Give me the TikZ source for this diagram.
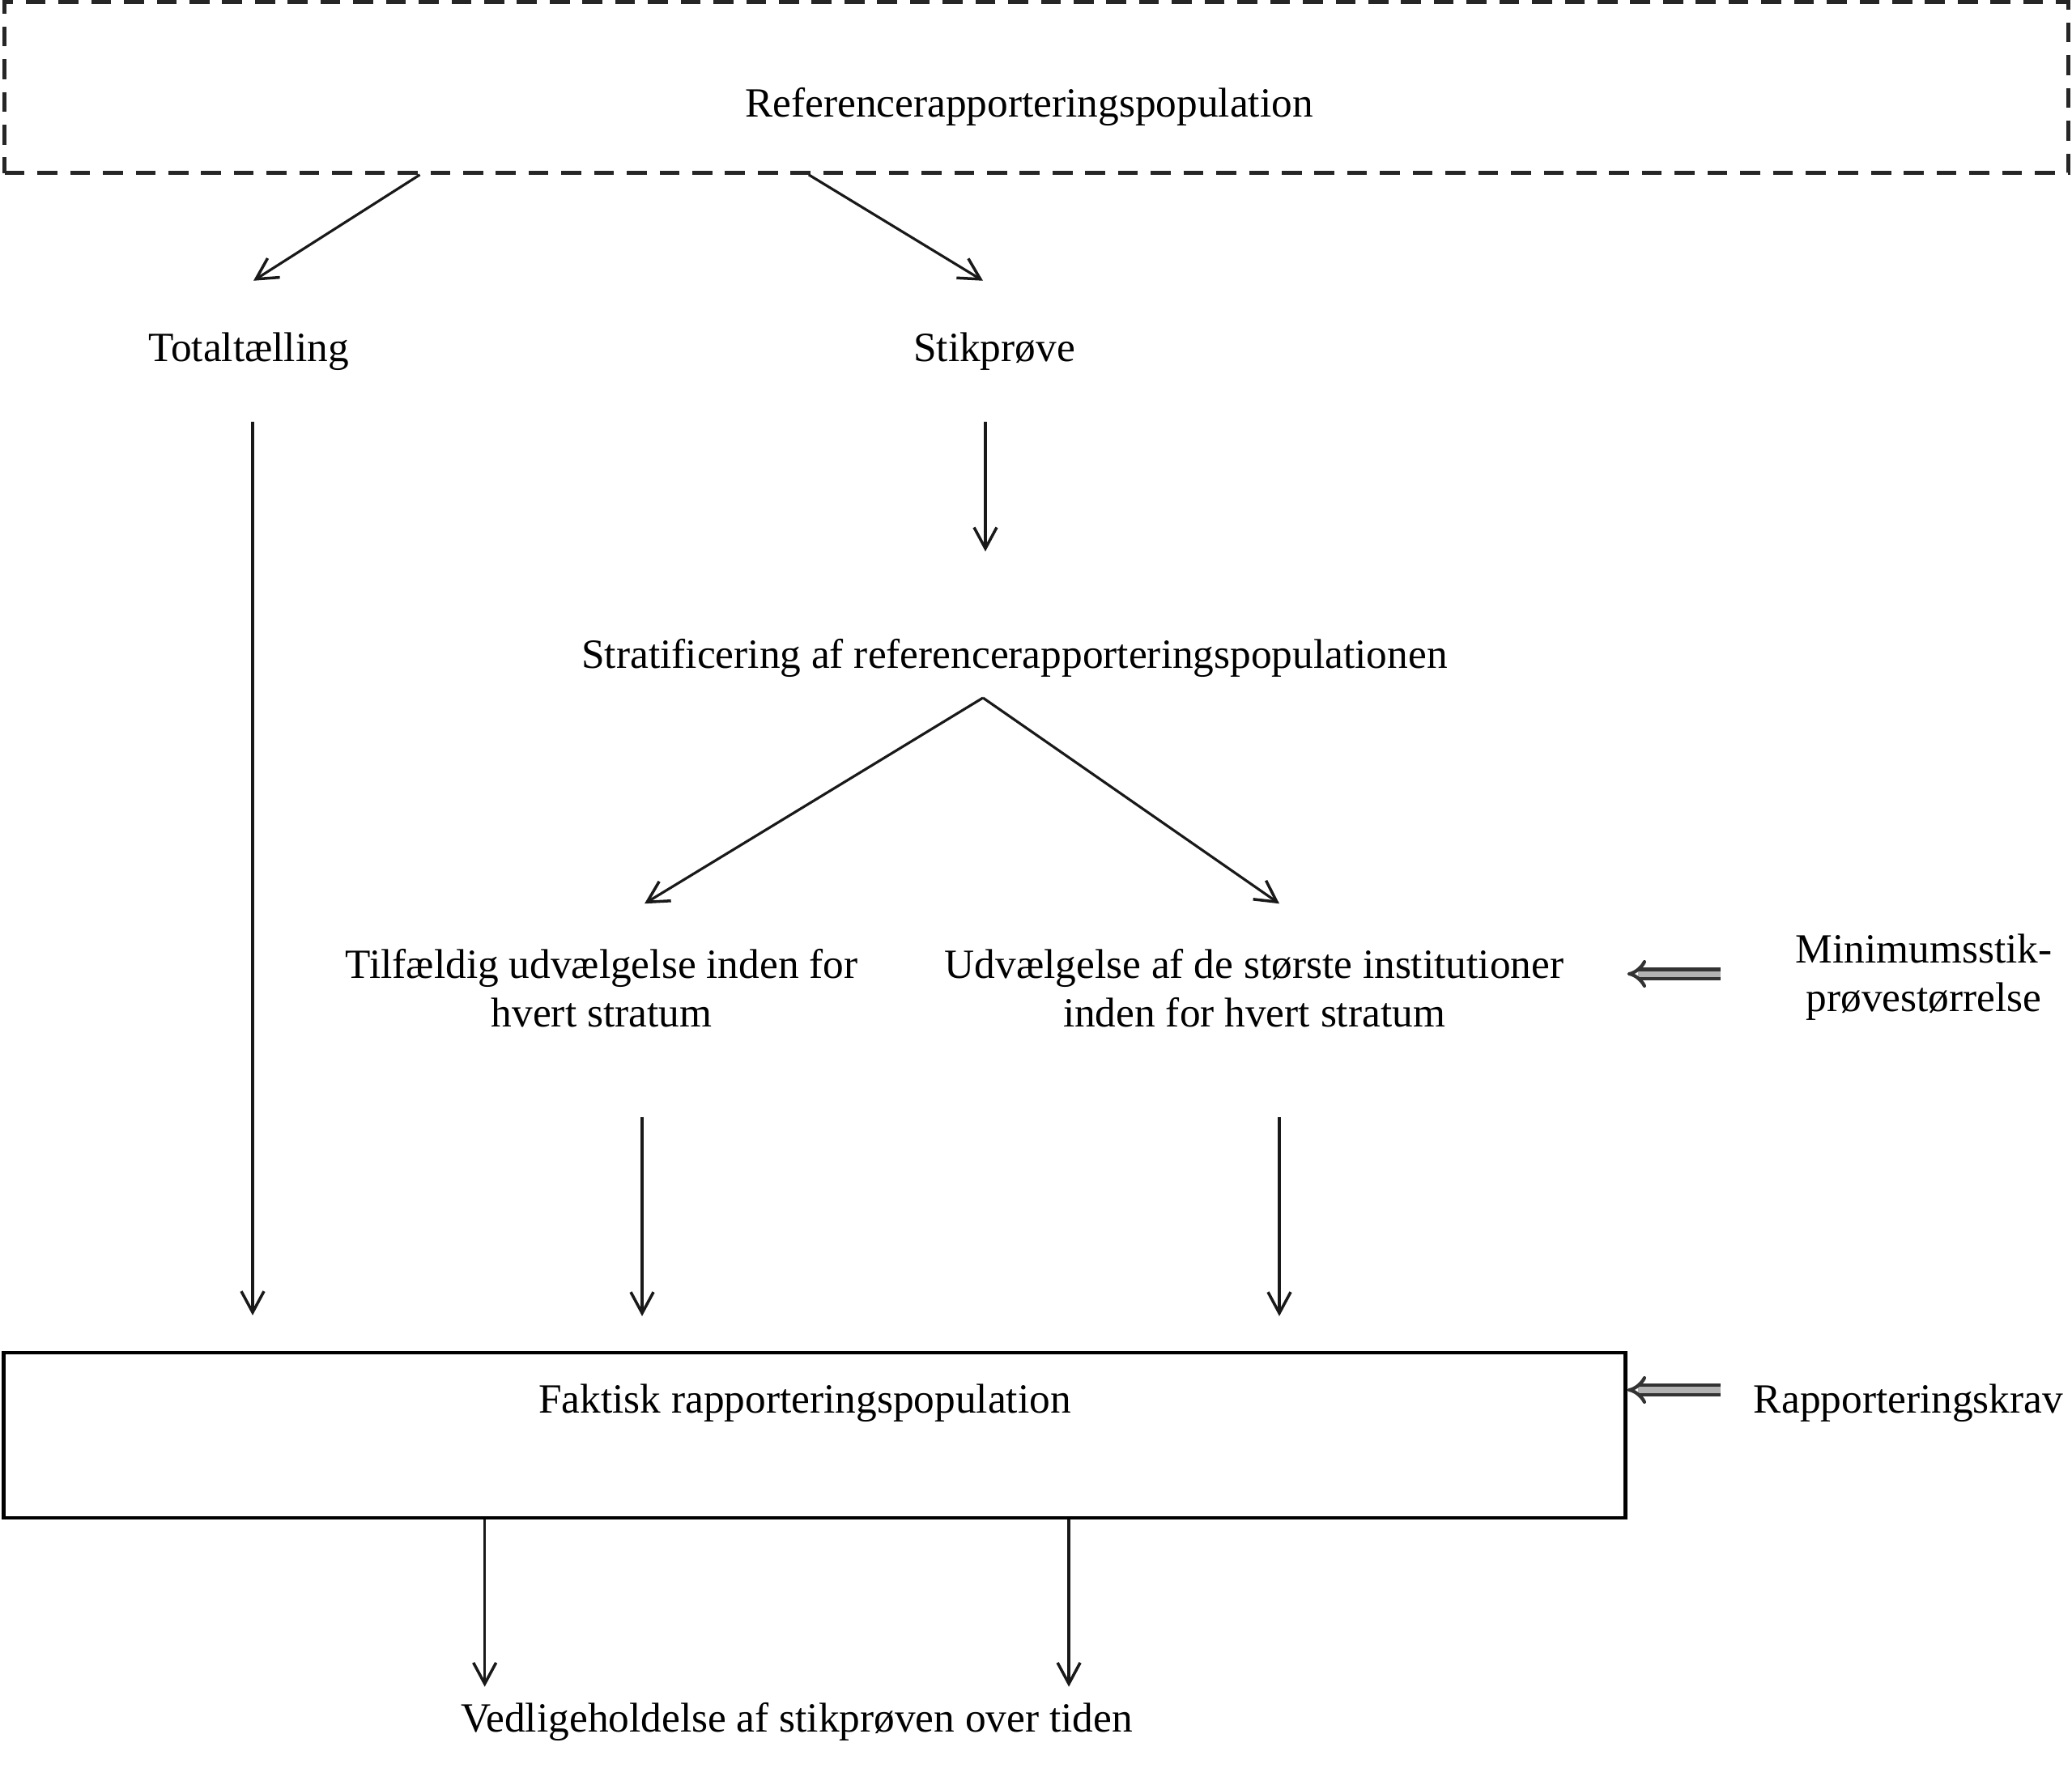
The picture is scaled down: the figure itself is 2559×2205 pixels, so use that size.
\documentclass[tikz,border=0pt]{standalone}
\usepackage{fontspec}
\setmainfont{Liberation Serif}
\usetikzlibrary{arrows.meta, calc}
\tikzset{
  refbox/.style  = {draw=black!85, line width=1.3pt, dash pattern=on 7pt off 4.5pt,
                    minimum width=25.47cm, minimum height=2.11cm, inner sep=0pt},
  factbox/.style = {draw=black, line width=1.2pt, minimum width=20.02cm,
                    minimum height=2.04cm, inner sep=0pt},
  txt/.style     = {align=center, inner sep=4pt},
  choice/.style  = {txt, minimum height=2.08cm},
  side/.style    = {txt, inner xsep=0.4cm},
  flow/.style    = {-{Straight Barb[length=2.6mm, width=2.8mm, line width=1pt]},
                    line width=0.9pt, draw=black!90},
  input/.style   = {-{Implies[length=3mm]}, double=black!30, double distance=2pt,
                    line width=1.2pt, draw=black!80}
}

\begin{document}
\begin{tikzpicture}[x=0.01cm, y=-0.01cm, font=\fontsize{14.6}{17}\selectfont]
\useasboundingbox (0,0) rectangle (2559,2205);

% Boxes
\node[refbox] (ref) at (1280,108) {};
\node[txt] (reftxt) at (1271,132) {Referencerapporteringspopulation};
\node[factbox] (fact) at (1006,1773) {};
\node[txt] (facttxt) at (994,1733) {Faktisk rapporteringspopulation};

% Texts
\node[txt, minimum height=1.73cm] (tot) at (307,434) {Totaltælling};
\node[txt, minimum height=1.73cm] (stik) at (1228,434) {Stikprøve};
\node[txt, minimum height=2.62cm] (strat) at (1253,813)
  {Stratificering af referencerapporteringspopulationen};
\coordinate (fork) at (1214,862);
\node[choice] (tilf) at (743,1221) {Tilfældig udvælgelse inden for\\hvert stratum};
\node[choice] (udv) at (1549,1221)
  {Udvælgelse af de største institutioner\\inden for hvert stratum};
\node[side] (min) at (2376,1207) {Minimumsstik-\\prøvestørrelse};
\node[side] (krav) at (2357,1733) {Rapporteringskrav};
\node[txt] (vedl) at (984,2127) {Vedligeholdelse af stikprøven over tiden};

% Arrows
\draw[flow] ([xshift=-7.61cm]ref.south) -- ([xshift=0.06cm]tot.north);
\draw[flow] ([xshift=-2.81cm]ref.south) -- ([xshift=-0.14cm]stik.north);
\draw[flow, shorten >=0.44cm] ([xshift=0.05cm]tot.south) -- ([xshift=0.05cm]tot.south |- fact.north);
\draw[flow] ([xshift=-0.11cm]stik.south) -- ([xshift=-0.11cm]stik.south |- strat.north);
\draw[flow] (fork) -- ([xshift=0.53cm]tilf.north);
\draw[flow] (fork) -- ([xshift=0.31cm]udv.north);
\draw[flow, shorten <=0.54cm, shorten >=0.43cm]
  ([xshift=0.5cm]tilf.south) -- ([xshift=0.5cm]tilf.south |- fact.north);
\draw[flow, shorten <=0.54cm, shorten >=0.43cm]
  ([xshift=0.31cm]udv.south) -- ([xshift=0.31cm]udv.south |- fact.north);
\draw[input] ([yshift=0.04cm]min.west -| krav.west) -- ([yshift=0.04cm]min.west -| fact.east);
\draw[input] ([yshift=0.16cm]krav.west) -- ([yshift=0.16cm]krav.west -| fact.east);
\draw[flow, shorten >=0.05cm]
  ([xshift=5.96cm]fact.south west) -- ([xshift=5.96cm]fact.south west |- vedl.north);
\draw[flow, shorten >=0.05cm]
  ([xshift=13.17cm]fact.south west) -- ([xshift=13.17cm]fact.south west |- vedl.north);
\end{tikzpicture}
\end{document}
